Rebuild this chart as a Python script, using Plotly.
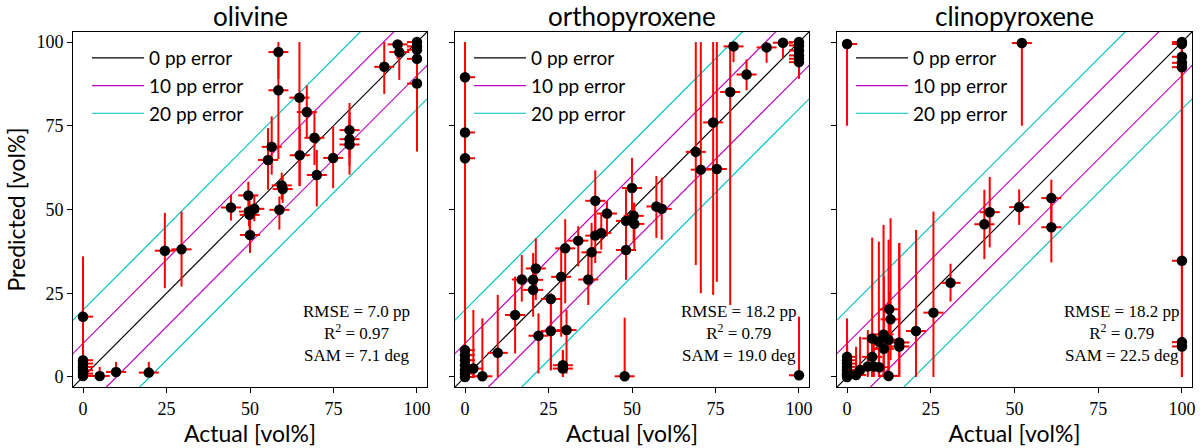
import plotly.graph_objects as go

# values
titles = ["olivine", "orthopyroxene", "clinopyroxene"]

ol_actual = [0, 0, 0, 0, 0, 0, 0, 5, 9.9, 19.7, 24.5, 29.5, 44.3, 49.5, 49.7, 49.9, 50, 51.3,
             55.4, 56.5, 58.5, 58.5, 58.8, 59.5, 59.8, 64.8, 64.9, 67, 69.3, 70, 74.9,
             79.8, 79.8, 79.8, 90.2, 94.2, 94.7, 100, 100, 100, 100, 100]
ol_pred = [18, 5, 4, 3, 2, 1, 0.3, 0.3, 1.5, 1.3, 37.7, 38.1, 50.6, 54.2, 49.4, 48.4, 42.4, 50.2,
           64.8, 68.7, 97, 85.6, 49.9, 57.2, 56.1, 83.4, 66.2, 79.1, 71.4, 60.3, 65.4,
           73.7, 71, 69.4, 92.6, 99.3, 97, 100, 98.7, 97.7, 95, 87.6]
ol_lo = [0, 2, 1, 0, 0, 0, 0, 0, 0, 0, 26.5, 27, 46.7, 50, 45, 44, 37, 46.5,
         55.9, 60.4, 89, 65, 44, 53, 52, 57, 57, 71.3, 63.3, 50.9, 56.4,
         65.5, 63, 60.4, 84.5, 95, 88.7, 97, 95, 94, 91, 67.3]
ol_hi = [36, 8, 7, 6, 5, 4, 3, 3, 4.5, 4.5, 49, 49.4, 54.4, 58.3, 53.5, 52.5, 47, 54,
         74.3, 77.8, 100, 97, 53.9, 61, 60, 100, 75, 87, 78.8, 67.8, 74.8,
         81.8, 79, 77, 100, 100, 100, 100, 100, 100, 99, 100]

opx_actual = [0, 0, 0, 0, 0, 0, 0, 0, 0, 0, 2.5, 5.2, 9.8, 15, 17, 20.4, 20.4, 21.2, 22,
              25.7, 25.7, 28.8, 29.3, 29.3, 30, 30.4, 33.9, 36.9, 37.9, 39, 39, 40.8, 42.5,
              48.2, 48.2, 47.8, 50, 50.5, 50.7, 57.3, 58.9, 69.1, 70.6, 74.3, 75.4, 79.4,
              80.4, 84.3, 90.3, 95.2, 100, 100, 100, 100, 100, 100, 100]
opx_pred = [89.5, 73, 65.3, 8, 6.5, 5, 3.5, 2, 1, 0, 2.5, 0.2, 7.2, 18.5, 29.1, 29, 26, 32.4, 12.3,
            23.3, 13.7, 29.9, 3.5, 2.5, 38.4, 14, 40.7, 29.1, 37.2, 52.6, 42.2, 43, 48.8,
            46.6, 37.9, 0.2, 56.4, 48.1, 45.7, 50.9, 50.2, 67.2, 61.9, 76, 62.1, 85.1,
            98.7, 90.3, 98.4, 99.8, 100, 99, 97.5, 96, 95, 94, 0.5]
opx_lo = [0, 0, 0, 0, 0, 0, 0, 0, 0, 0, 0, 0, 0, 7, 22.5, 21, 18, 23, 1,
          2, 2, 12, 0, 0, 22, 1, 33, 21.5, 29, 42, 34, 38, 42,
          36, 29, 0, 48.9, 40, 38, 41.5, 41, 33.4, 25, 24.5, 28.4, 21.5,
          94, 85.6, 93.8, 95, 96, 95, 93, 91, 90, 89, 0]
opx_hi = [100, 100, 100, 12, 10, 8, 7, 5, 4, 3, 20, 17.5, 24.5, 30, 36.4, 37, 33, 41.4, 19,
          25, 24, 38, 8, 8, 47.1, 20, 45, 37, 46, 61.7, 50, 49, 52.5,
          56, 47, 17.7, 65.4, 52, 52, 60, 59.5, 100, 100, 100, 100, 100,
          100, 94.8, 100, 100, 100, 100, 100, 100, 99, 98, 18]

cpx_actual = [0, 52.2, 100, 100, 100, 100, 100, 100, 100, 100, 41, 42.6, 51.4, 61, 61, 30.9,
              25.8, 20.6, 15.6, 15.6, 12.6, 13, 12.4, 10.9, 11, 9.5, 7.5, 7.5, 6.2, 8, 9.6,
              12.4, 3.9, 2.7, 0, 0, 0, 0, 0, 0, 0, 0]
cpx_pred = [99.4, 99.7, 100, 99.4, 95.6, 93.8, 92.5, 34.7, 10.4, 9.1, 45.6, 49.2, 50.7, 53.4, 44.7, 28.1,
            19.2, 13.7, 10.3, 9.1, 20.2, 17.2, 11.1, 12.7, 8.4, 10.6, 11.5, 6, 3.1, 3.1, 2.9,
            0.3, 2.1, 0.6, 6, 5, 4, 3, 2, 1, 0.5, 0]
cpx_lo = [75, 75, 0, 96, 92, 90, 89, 0, 0, 0, 35.2, 38.7, 45.4, 44.7, 34.2, 22.5,
          0, 0, 0, 0, 10, 5, 0, 0, 0, 0, 0, 0, 0, 0, 0,
          0, 0, 0, 0, 0, 0, 0, 0, 0, 0, 0]
cpx_hi = [100, 100, 100, 100, 99, 97, 96, 100, 100, 100, 55.9, 59.7, 56, 58.9, 53.4, 33.8,
          49.4, 43.9, 40, 40, 25.5, 47.4, 41, 45.4, 30, 40.4, 41.6, 12, 14, 12, 10,
          10, 12, 9, 17.5, 12, 10, 9, 7, 5, 4, 3]

x_err = 3
stats = [("7.0", "0.97", "7.1"), ("18.2", "0.79", "19.0"), ("18.2", "0.79", "22.5")]

err_lines = [("0 pp error", [0], "black"),
             ("10 pp error", [10, -10], "#bf00bf"),
             ("20 pp error", [20, -20], "#00bfbf")]

panels = [(ol_actual, ol_pred, ol_lo, ol_hi),
          (opx_actual, opx_pred, opx_lo, opx_hi),
          (cpx_actual, cpx_pred, cpx_lo, cpx_hi)]

rng = [-3, 103]
W, H = 1200, 448
L, R, T, B = 73, 1192, 32, 387   # plot area in pixels
x_px = [(73, 427), (455, 809), (837, 1192)]

serif = "Liberation Serif"
sans = "Lato"

fig = go.Figure()
layout = dict(width=W, height=H,
              margin=dict(l=L, r=W - R, t=T, b=H - B, autoexpand=False),
              plot_bgcolor="white", paper_bgcolor="white", showlegend=True,
              annotations=[])

for i, (xa, ya, lo, hi) in enumerate(panels):
    n = "" if i == 0 else str(i + 1)
    leg = "legend" + n
    for name, offs, col in err_lines:
        xs, ys = [], []
        for o in offs:
            xs += [rng[0] - 5, rng[1] + 5, None]
            ys += [rng[0] - 5 + o, rng[1] + 5 + o, None]
        fig.add_trace(go.Scatter(x=xs, y=ys, mode="lines", name=name,
                                 line=dict(color=col, width=1.2),
                                 xaxis="x" + n, yaxis="y" + n, legend=leg,
                                 legendgroup=name + n, hoverinfo="skip"))
    fig.add_trace(go.Scatter(
        x=xa, y=ya, mode="markers", showlegend=False,
        marker=dict(color="black", size=10.5),
        error_x=dict(type="data", symmetric=False,
                     array=[min(x_err, 100 - v) for v in xa],
                     arrayminus=[min(x_err, v) for v in xa],
                     color="red", thickness=2, width=0),
        error_y=dict(type="data", symmetric=False,
                     array=[h - v for v, h in zip(ya, hi)],
                     arrayminus=[v - l for v, l in zip(ya, lo)],
                     color="red", thickness=2, width=0),
        xaxis="x" + n, yaxis="y" + n))

    x0, x1 = x_px[i]
    common = dict(range=rng, showline=True, mirror=True, linecolor="black", linewidth=1,
                  ticks="outside", ticklen=5, tickcolor="black", showgrid=False,
                  zeroline=False, tickvals=[0, 25, 50, 75, 100], automargin=False,
                  tickfont=dict(family=serif, size=18, color="black"))
    layout["xaxis" + n] = dict(common, domain=[(x0 - L) / (R - L), (x1 - L) / (R - L)],
                               anchor="y" + n,
                               title=dict(text="Actual [vol%]", standoff=4,
                                          font=dict(family=sans, size=23, color="black")))
    ya_cfg = dict(common, domain=[0, 1], anchor="x" + n, showticklabels=(i == 0))
    if i == 0:
        ya_cfg["title"] = dict(text="Predicted [vol%]", standoff=4,
                               font=dict(family=sans, size=23, color="black"))
    layout["yaxis" + n] = ya_cfg

    layout[leg] = dict(x=(x0 + 14 - L) / (R - L), y=1 - 7 / (B - T), xanchor="left",
                       yanchor="top", bgcolor="rgba(0,0,0,0)", tracegroupgap=0,
                       itemwidth=52, font=dict(family=sans, size=19, color="black"))

    layout["annotations"].append(dict(
        text="<br>".join(["RMSE = %s pp" % stats[i][0],
                          "R<sup>2</sup> = %s" % stats[i][1],
                          "SAM = %s deg" % stats[i][2]]),
        xref="x%s domain" % n, yref="y%s domain" % n, x=0.80, y=0.152,
        showarrow=False, align="center", xanchor="center", yanchor="middle",
        font=dict(family=serif, size=17, color="black")))
    layout["annotations"].append(dict(
        text=titles[i], xref="paper", yref="paper", x=((x0 + x1) / 2 - L) / (R - L),
        y=1 + 16 / (B - T), showarrow=False, xanchor="center", yanchor="middle",
        font=dict(family=sans, size=26, color="black")))

fig.update_layout(**layout)
fig.write_html("out.html", config={"displayModeBar": False},
               post_script="document.body.style.margin='0px';")
